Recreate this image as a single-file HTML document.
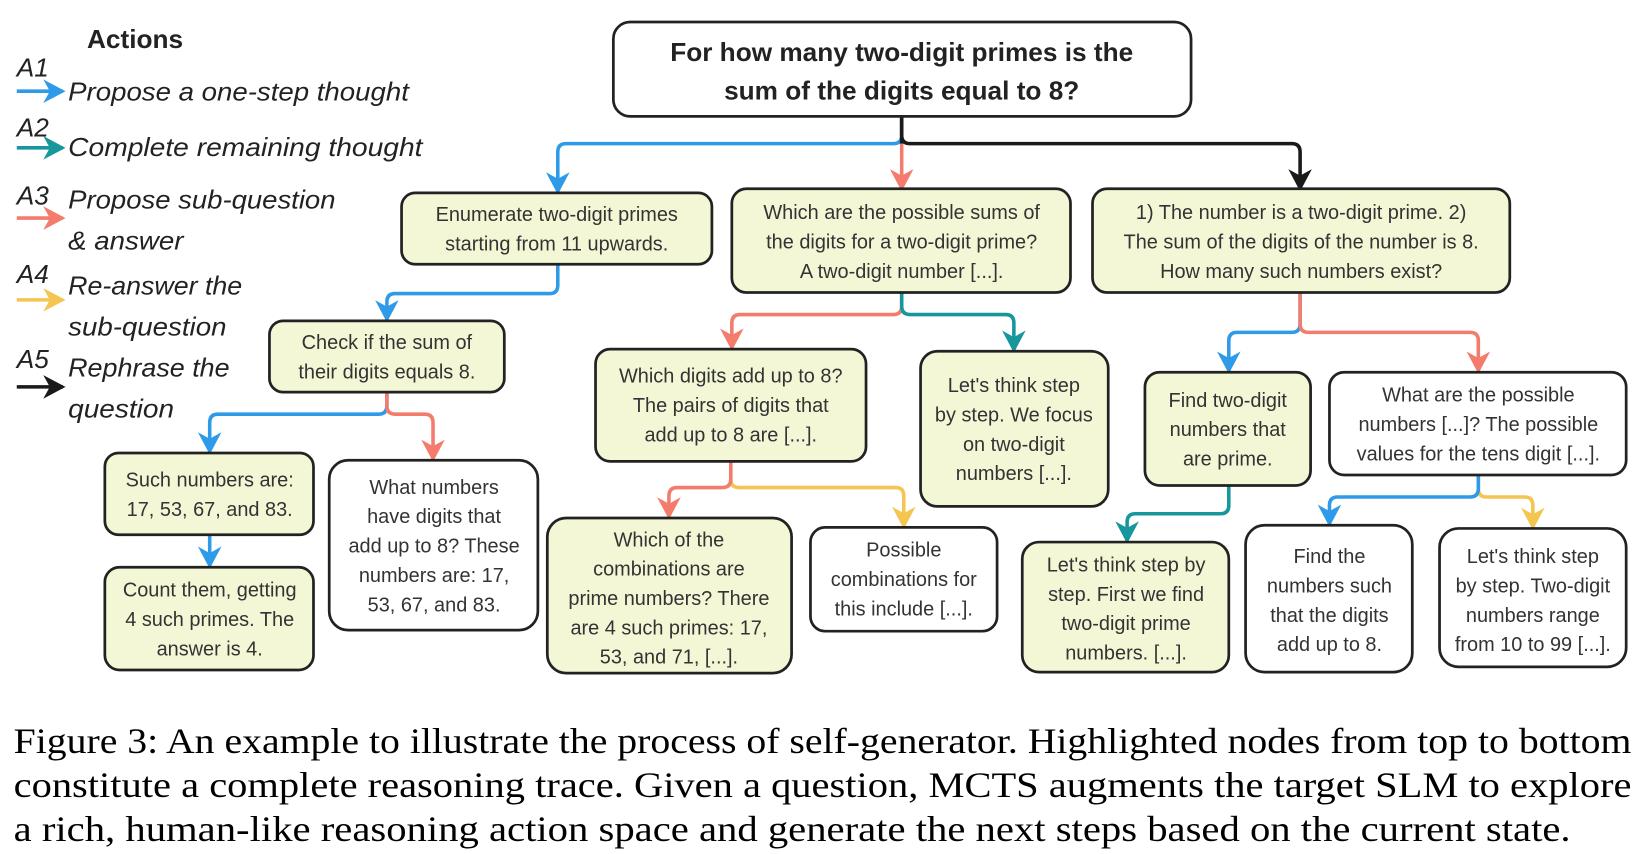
<!DOCTYPE html>
<html><head><meta charset="utf-8"><style>
html,body{margin:0;padding:0;background:#fff;}
svg{display:block;}
.bx{stroke:#222;stroke-width:2.6;}
.h{fill:#f3f7d6;}
.w{fill:#fff;}
.t{font-family:"Liberation Sans",sans-serif;font-size:19px;fill:#333;text-anchor:middle;}
.lg{font-family:"Liberation Sans",sans-serif;font-style:italic;font-size:25px;fill:#222;}
.cap{font-family:"Liberation Serif",serif;font-size:34px;fill:#000;}
path.c{fill:none;stroke-width:3.4;}
</style></head><body>
<svg width="1644" height="854" viewBox="0 0 1568 814.5" preserveAspectRatio="none" xmlns="http://www.w3.org/2000/svg">
<defs>
<marker id="mb" markerUnits="userSpaceOnUse" markerWidth="30" markerHeight="30" refX="0" refY="0" orient="auto" viewBox="-20 -12 24 24"><path d="M2,0 L-15,-9 L-10,0 L-15,9 z" fill="#2f9be8"/></marker>
<marker id="mt" markerUnits="userSpaceOnUse" markerWidth="30" markerHeight="30" refX="0" refY="0" orient="auto" viewBox="-20 -12 24 24"><path d="M2,0 L-15,-9 L-10,0 L-15,9 z" fill="#17979c"/></marker>
<marker id="ms" markerUnits="userSpaceOnUse" markerWidth="30" markerHeight="30" refX="0" refY="0" orient="auto" viewBox="-20 -12 24 24"><path d="M2,0 L-15,-9 L-10,0 L-15,9 z" fill="#f47c6c"/></marker>
<marker id="my" markerUnits="userSpaceOnUse" markerWidth="30" markerHeight="30" refX="0" refY="0" orient="auto" viewBox="-20 -12 24 24"><path d="M2,0 L-15,-9 L-10,0 L-15,9 z" fill="#f4c551"/></marker>
<marker id="mk" markerUnits="userSpaceOnUse" markerWidth="30" markerHeight="30" refX="0" refY="0" orient="auto" viewBox="-20 -12 24 24"><path d="M2,0 L-15,-9 L-10,0 L-15,9 z" fill="#1a1a1a"/></marker>
</defs>

<!-- Legend -->
<text x="83" y="46" font-family="Liberation Sans,sans-serif" font-weight="bold" font-size="25" fill="#222">Actions</text>
<text class="lg" x="16" y="73" font-size="23">A1</text>
<path class="c" d="M16,87 H60" stroke="#2f9be8" marker-end="url(#mb)"/>
<text class="lg" x="65" y="96" textLength="325" lengthAdjust="spacingAndGlyphs">Propose a one-step thought</text>
<text class="lg" x="16" y="130" font-size="23">A2</text>
<path class="c" d="M16,141 H60" stroke="#17979c" marker-end="url(#mt)"/>
<text class="lg" x="65" y="149" textLength="338" lengthAdjust="spacingAndGlyphs">Complete remaining thought</text>
<text class="lg" x="16" y="195" font-size="23">A3</text>
<path class="c" d="M16,208 H60" stroke="#f47c6c" marker-end="url(#ms)"/>
<text class="lg" x="65" y="199" textLength="255" lengthAdjust="spacingAndGlyphs">Propose sub-question</text>
<text class="lg" x="65" y="238" textLength="110" lengthAdjust="spacingAndGlyphs">&amp; answer</text>
<text class="lg" x="16" y="270" font-size="23">A4</text>
<path class="c" d="M16,286 H60" stroke="#f4c551" marker-end="url(#my)"/>
<text class="lg" x="65" y="281" textLength="166" lengthAdjust="spacingAndGlyphs">Re-answer the</text>
<text class="lg" x="65" y="320" textLength="151" lengthAdjust="spacingAndGlyphs">sub-question</text>
<text class="lg" x="16" y="351" font-size="23">A5</text>
<path class="c" d="M16,369 H60" stroke="#1a1a1a" marker-end="url(#mk)"/>
<text class="lg" x="65" y="359" textLength="154" lengthAdjust="spacingAndGlyphs">Rephrase the</text>
<text class="lg" x="65" y="398" textLength="101" lengthAdjust="spacingAndGlyphs">question</text>

<!-- Connectors -->
<path class="c" stroke="#2f9be8" marker-end="url(#mb)" d="M860,111 V129 Q860,137 852,137 H540 Q532,137 532,145 V183"/>
<path class="c" stroke="#1a1a1a" marker-end="url(#mk)" d="M860,111 V129 Q860,137 868,137 H1232 Q1240,137 1240,145 V180"/>
<path class="c" stroke="#f47c6c" marker-end="url(#ms)" d="M860,137 V180"/>
<path class="c" stroke="#1a1a1a" d="M860,111 V137"/>
<path class="c" stroke="#2f9be8" marker-end="url(#mb)" d="M532,252 V272 Q532,280 524,280 H377 Q369,280 369,288 V305"/>
<path class="c" stroke="#2f9be8" marker-end="url(#mb)" d="M369,374 V387 Q369,395 361,395 H208 Q200,395 200,403 V431"/>
<path class="c" stroke="#f47c6c" marker-end="url(#ms)" d="M369,374 V387 Q369,395 377,395 H405 Q413,395 413,403 V438"/>
<path class="c" stroke="#2f9be8" marker-end="url(#mb)" d="M200,510 V540"/>
<path class="c" stroke="#f47c6c" marker-end="url(#ms)" d="M860,279 V292 Q860,300 852,300 H706 Q698,300 698,308 V332"/>
<path class="c" stroke="#17979c" marker-end="url(#mt)" d="M860,279 V292 Q860,300 868,300 H959 Q967,300 967,308 V334"/>
<path class="c" stroke="#f4c551" marker-end="url(#my)" d="M697,440 V457 Q697,465 705,465 H854 Q862,465 862,473 V502"/>
<path class="c" stroke="#f47c6c" marker-end="url(#ms)" d="M697,440 V457 Q697,465 689,465 H646 Q638,465 638,473 V493"/>
<path class="c" stroke="#2f9be8" marker-end="url(#mb)" d="M1240,279 V309 Q1240,317 1232,317 H1180 Q1172,317 1172,325 V354"/>
<path class="c" stroke="#f47c6c" marker-end="url(#ms)" d="M1240,279 V309 Q1240,317 1248,317 H1402 Q1410,317 1410,325 V354"/>
<path class="c" stroke="#17979c" marker-end="url(#mt)" d="M1172,463 V482 Q1172,490 1164,490 H1083 Q1075,490 1075,498 V516"/>
<path class="c" stroke="#f4c551" marker-end="url(#my)" d="M1410,453 V466 Q1410,474 1418,474 H1454 Q1462,474 1462,482 V503"/>
<path class="c" stroke="#2f9be8" marker-end="url(#mb)" d="M1410,453 V466 Q1410,474 1402,474 H1276 Q1268,474 1268,482 V500"/>

<!-- Root -->
<rect class="bx w" x="585" y="21" width="551" height="90" rx="16" stroke-width="3.2"/>
<text x="860" y="58" font-family="Liberation Sans,sans-serif" font-weight="bold" font-size="25" fill="#222" text-anchor="middle">For how many two-digit primes is the</text>
<text x="860" y="95" font-family="Liberation Sans,sans-serif" font-weight="bold" font-size="25" fill="#222" text-anchor="middle">sum of the digits equal to 8?</text>

<!-- Boxes -->
<rect class="bx h" x="383" y="184" width="296" height="68" rx="13"/>
<text class="t" x="531" y="211">Enumerate two-digit primes</text>
<text class="t" x="531" y="239">starting from 11 upwards.</text>

<rect class="bx h" x="698" y="180" width="323" height="99" rx="14"/>
<text class="t" x="860" y="209">Which are the possible sums of</text>
<text class="t" x="860" y="237">the digits for a two-digit prime?</text>
<text class="t" x="860" y="265">A two-digit number [...].</text>

<rect class="bx h" x="1042" y="180" width="398" height="99" rx="14"/>
<text class="t" x="1241" y="209">1) The number is a two-digit prime. 2)</text>
<text class="t" x="1241" y="237">The sum of the digits of the number is 8.</text>
<text class="t" x="1241" y="265">How many such numbers exist?</text>

<rect class="bx h" x="257" y="306" width="224" height="68" rx="13"/>
<text class="t" x="369" y="333">Check if the sum of</text>
<text class="t" x="369" y="361">their digits equals 8.</text>

<rect class="bx h" x="568" y="333" width="258" height="107" rx="14"/>
<text class="t" x="697" y="365">Which digits add up to 8?</text>
<text class="t" x="697" y="393">The pairs of digits that</text>
<text class="t" x="697" y="421">add up to 8 are [...].</text>

<rect class="bx h" x="878" y="335" width="179" height="148" rx="16"/>
<text class="t" x="967" y="374">Let's think step</text>
<text class="t" x="967" y="402">by step. We focus</text>
<text class="t" x="967" y="430">on two-digit</text>
<text class="t" x="967" y="458">numbers [...].</text>

<rect class="bx h" x="1092" y="355" width="158" height="108" rx="14"/>
<text class="t" x="1171" y="388">Find two-digit</text>
<text class="t" x="1171" y="416">numbers that</text>
<text class="t" x="1171" y="444">are prime.</text>

<rect class="bx w" x="1268" y="355" width="283" height="98" rx="14"/>
<text class="t" x="1410" y="383">What are the possible</text>
<text class="t" x="1410" y="411">numbers [...]? The possible</text>
<text class="t" x="1410" y="439">values for the tens digit [...].</text>

<rect class="bx h" x="100" y="432" width="199" height="78" rx="13"/>
<text class="t" x="200" y="464">Such numbers are:</text>
<text class="t" x="200" y="492">17, 53, 67, and 83.</text>

<rect class="bx w" x="314" y="439" width="199" height="162" rx="18"/>
<text class="t" x="414" y="471">What numbers</text>
<text class="t" x="414" y="499">have digits that</text>
<text class="t" x="414" y="527">add up to 8? These</text>
<text class="t" x="414" y="555">numbers are: 17,</text>
<text class="t" x="414" y="583">53, 67, and 83.</text>

<rect class="bx h" x="100" y="541" width="199" height="98" rx="14"/>
<text class="t" x="200" y="569">Count them, getting</text>
<text class="t" x="200" y="597">4 such primes. The</text>
<text class="t" x="200" y="625">answer is 4.</text>

<rect class="bx h" x="522" y="494" width="233" height="148" rx="18"/>
<text class="t" x="638" y="521">Which of the</text>
<text class="t" x="638" y="549">combinations are</text>
<text class="t" x="638" y="577">prime numbers? There</text>
<text class="t" x="638" y="605">are 4 such primes: 17,</text>
<text class="t" x="638" y="633">53, and 71, [...].</text>

<rect class="bx w" x="773" y="503" width="178" height="99" rx="14"/>
<text class="t" x="862" y="531">Possible</text>
<text class="t" x="862" y="559">combinations for</text>
<text class="t" x="862" y="587">this include [...].</text>

<rect class="bx h" x="975" y="517" width="197" height="124" rx="16"/>
<text class="t" x="1074" y="545">Let's think step by</text>
<text class="t" x="1074" y="573">step. First we find</text>
<text class="t" x="1074" y="601">two-digit prime</text>
<text class="t" x="1074" y="629">numbers. [...].</text>

<rect class="bx w" x="1188" y="501" width="159" height="140" rx="18"/>
<text class="t" x="1268" y="537">Find the</text>
<text class="t" x="1268" y="565">numbers such</text>
<text class="t" x="1268" y="593">that the digits</text>
<text class="t" x="1268" y="621">add up to 8.</text>

<rect class="bx w" x="1373" y="504" width="178" height="132" rx="18"/>
<text class="t" x="1462" y="537">Let's think step</text>
<text class="t" x="1462" y="565">by step. Two-digit</text>
<text class="t" x="1462" y="593">numbers range</text>
<text class="t" x="1462" y="621">from 10 to 99 [...].</text>

<!-- Caption -->
<text class="cap" x="13" y="718" textLength="1543" lengthAdjust="spacingAndGlyphs">Figure 3: An example to illustrate the process of self-generator. Highlighted nodes from top to bottom</text>
<text class="cap" x="13" y="760" textLength="1543" lengthAdjust="spacingAndGlyphs">constitute a complete reasoning trace. Given a question, MCTS augments the target SLM to explore</text>
<text class="cap" x="13" y="802" textLength="1485" lengthAdjust="spacingAndGlyphs">a rich, human-like reasoning action space and generate the next steps based on the current state.</text>
</svg>
</body></html>
